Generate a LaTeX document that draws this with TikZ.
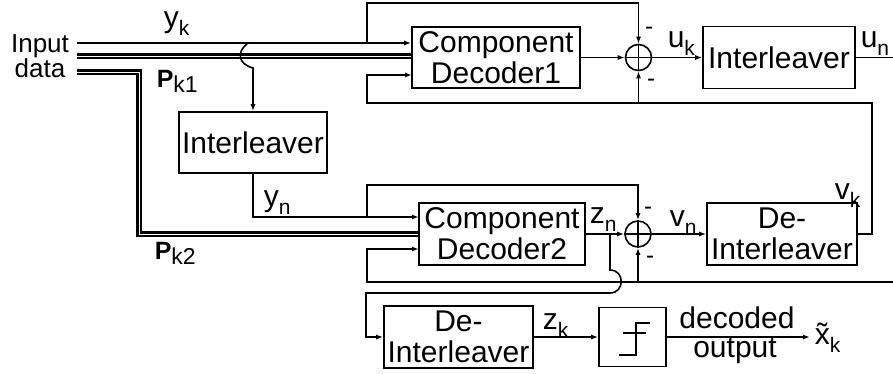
\documentclass[tikz,border=0pt]{standalone}
\usepackage{fontspec}
\setmainfont{Liberation Sans}
\usetikzlibrary{arrows.meta}
\newcommand{\lb}[2]{{\fontsize{30}{30}\selectfont #1}\raisebox{-8pt}{\fontsize{21}{21}\selectfont #2}}
\newcommand{\pb}[2]{{\fontsize{25}{25}\selectfont\bfseries #1}\raisebox{-5pt}{\fontsize{23}{23}\selectfont #2}}
\begin{document}
\begin{tikzpicture}[x=1pt,y=-1pt,line width=1.6pt,>={Latex[length=7pt,width=5pt]},
  box/.style={draw,line width=1.6pt,inner sep=0pt,align=center,font=\fontsize{30}{31}\selectfont},
  sum/.style={circle,draw,line width=1.6pt,minimum size=26pt,inner sep=0pt},
  pline/.style={double=white,double distance=0.9pt,line width=2.8pt},
  lab/.style={anchor=base west,inner sep=0pt},
  txt/.style={anchor=base,inner sep=0pt,font=\fontsize{30}{30}\selectfont},
  minus/.style={inner sep=0pt,font=\fontsize{24}{24}\selectfont}]
\useasboundingbox (0,0) rectangle (893,374);
% boxes
\node[box,minimum width=168pt,minimum height=61pt] (dec1) at (496,57.5) {Component\\Decoder1};
\node[box,minimum width=152pt,minimum height=62pt] (int1) at (779,57.5) {Interleaver};
\node[box,minimum width=148pt,minimum height=61pt] (int0) at (253,142.5) {Interleaver};
\node[box,minimum width=166pt,minimum height=62pt] (dec2) at (502,234) {Component\\Decoder2};
\node[box,minimum width=150pt,minimum height=62pt] (dint1) at (782,234) {De-\\Interleaver};
\node[box,minimum width=149pt,minimum height=62pt] (dint2) at (458.5,337) {De-\\Interleaver};
\node[box,minimum width=67pt,minimum height=59pt] (thr) at (632.5,337) {};
\node[sum] (s1) at (638.5,57.5) {};
\node[sum] (s2) at (638,234) {};
\draw (s1.north) -- (s1.south) (s1.west) -- (s1.east);
\draw (s2.north) -- (s2.south) (s2.west) -- (s2.east);
% threshold symbol
\draw (650,323) -- (636,323) -- (636,355) -- (619,355) (623,333) -- (646,333);
% coordinates
\coordinate (yk) at (77,43);
\coordinate (pk1) at (77,56);
\coordinate (pk2) at (77,72);
\coordinate (d1in3) at (412,75);
\coordinate (d2in1) at (419,217);
\coordinate (d2in3) at (419,249);
\coordinate (j1) at (638.5,103);
\coordinate (j2) at (638,282);
\coordinate (xo) at (810,337);
\coordinate (un) at (893,57.5);
\coordinate (rb) at (893,282);
% input lines
\draw[->] (yk) -- (yk -| dec1.west);
\draw[pline] (pk1) -- (pk1 -| dec1.west);
\draw[pline] (pk2) -- (139,72) -- (139,234) -- (dec2.west);
% decoder 1 loop
\draw[->] (367,43) -- (367,3) -| (s1.north);
\draw[->] (dint1.east) -| (872,103) -- (367,103) |- (d1in3);
\draw[->] (j1) -- (s1.south);
\draw[->] (dec1.east) -- (s1.west);
\draw[->] (s1.east) -- (int1.west);
\draw (int1.east) -- (un);
% interleaver
\draw[->] (248,43) .. controls (236,52) and (238,64) .. (253,68) -- (int0.north);
\draw[->] (int0.south) |- (d2in1);
% decoder 2 loop
\draw[->] (367,217) -- (367,185) -| (s2.north);
\draw[->] (rb) -- (367,282) |- (d2in3);
\draw[->] (j2) -- (s2.south);
\draw[->] (dec2.east) -- (s2.west);
\draw[->] (s2.east) -- (dint1.west);
% z_n tap
\draw[->] (610,234) -- (610,270) .. controls (625,270) and (625,293) .. (610,293) -- (366,293) |- (dint2.west);
\draw[->] (dint2.east) -- (thr.west);
\draw[->] (thr.east) -- (xo);
% labels
\node[align=center,inner sep=0pt,font=\fontsize{26}{24}\selectfont] (inp) at (40,56) {Input\\data};
\node[lab] (lyk) at (163,28) {\lb{y}{k}};
\node[lab] (lpk1) at (156,88) {\pb{P}{k1}};
\node[lab] (lpk2) at (154,259) {\pb{P}{k2}};
\node[lab] (lyn) at (263,206) {\lb{y}{n}};
\node[lab] (luk) at (667,48) {\lb{u}{k}};
\node[lab] (lun) at (860,48) {\lb{u}{n}};
\node[lab] (lzn) at (589,223) {\lb{z}{n}};
\node[lab] (lvn) at (669,226) {\lb{v}{n}};
\node[lab] (lvk) at (834,199) {\lb{v}{k}};
\node[lab] (lzk) at (542,329) {\lb{z}{k}};
\node[lab] (lxk) at (814,344) {\lb{\~{x}}{k}};
\node[txt] (ldec) at (737,328) {decoded};
\node[txt] (lout) at (735,357) {output};
\node[minus] (m1) at (649,31) {-};
\node[minus] (m2) at (651,83) {-};
\node[minus] (m3) at (648,211) {-};
\node[minus] (m4) at (650,260) {-};
\end{tikzpicture}
\end{document}
